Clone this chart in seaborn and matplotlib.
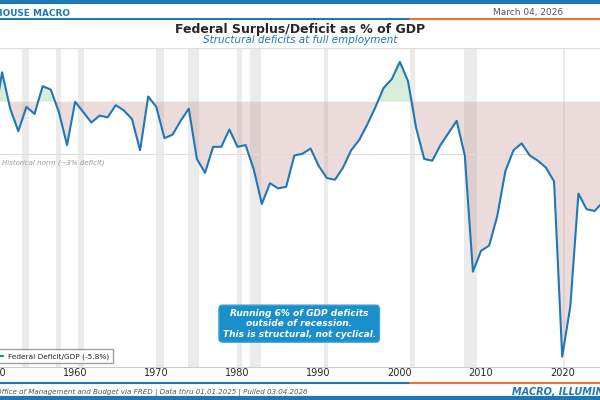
import numpy as np
import pandas as pd
import matplotlib
matplotlib.use("Agg")
import matplotlib.pyplot as plt
import seaborn as sns

years = list(range(1950, 2026))
values = [-1.1, 1.7, -0.4, -1.7, -0.3, -0.7, 0.9, 0.7, -0.6, -2.5,
          0.0, -0.6, -1.2, -0.8, -0.9, -0.2, -0.5, -1.0, -2.8, 0.3,
          -0.3, -2.1, -1.9, -1.1, -0.4, -3.3, -4.1, -2.6, -2.6, -1.6,
          -2.6, -2.5, -3.9, -5.9, -4.7, -5.0, -4.9, -3.1, -3.0, -2.7,
          -3.7, -4.4, -4.5, -3.8, -2.8, -2.2, -1.3, -0.3, 0.8, 1.3,
          2.3, 1.2, -1.5, -3.3, -3.4, -2.5, -1.8, -1.1, -3.1, -9.8,
          -8.6, -8.3, -6.6, -4.0, -2.8, -2.4, -3.1, -3.4, -3.8, -4.6,
          -14.7, -11.8, -5.3, -6.2, -6.3, -5.8]
recessions = [(1953.5, 1954.3), (1957.6, 1958.3), (1960.3, 1961.1), (1969.9, 1970.9),
              (1973.9, 1975.2), (1980.0, 1980.5), (1981.5, 1982.9), (1990.6, 1991.2),
              (2001.2, 2001.9), (2007.9, 2009.5), (2020.1, 2020.4)]
xticks = [1950, 1960, 1970, 1980, 1990, 2000, 2010, 2020]

df = pd.DataFrame({"year": years, "value": values})
BLUE = "#1f78b4"
ORANGE = "#e8743b"

sns.set_style("white")
plt.rcParams['font.family'] = ['DejaVu Sans']
fig = plt.figure(figsize=(6, 4), dpi=100)
ax = fig.add_axes([-0.0777, 0.0825, 1.150, 0.7975])

for a, b in recessions:
    ax.axvspan(a, b, color="#e6e6e6", alpha=0.8, lw=0, zorder=0)
x = np.array(years, float); y = np.array(values)
ax.fill_between(x, 0, y, where=y < 0, interpolate=True, color="#c08a8a", alpha=0.3, lw=0, zorder=1)
ax.fill_between(x, 0, y, where=y > 0, interpolate=True, color="#9fd49f", alpha=0.4, lw=0, zorder=1)
ax.axhline(-3, color="#dddddd", lw=0.8, zorder=1)
ax.axhline(3.1, color="#dddddd", lw=1.5, zorder=1)
sns.lineplot(data=df, x="year", y="value", ax=ax, color=BLUE, lw=1.5, zorder=3,
             label="Federal Deficit/GDP (-5.8%)", legend=False)
ax.text(1951.0, -3.35, "Historical norm (~3% deficit)", fontsize=5, style="italic", color="#999999", va="top")
ax.set_xlim(1945, 2030); ax.set_ylim(-15.3, 3.1)
ax.set_xticks(xticks); ax.set_xticklabels([str(t) for t in xticks], fontsize=7)
ax.set_yticks([]); ax.set_xlabel(""); ax.set_ylabel("")
for s in ["top", "left", "right"]:
    ax.spines[s].set_visible(False)
ax.spines["bottom"].set_color("#cccccc")
ax.tick_params(axis="x", length=0, pad=1)

ax.text(1987.6, -12.8, "Running 6% of GDP deficits\noutside of recession.\nThis is structural, not cyclical.",
        ha="center", va="center", fontsize=6.5, fontweight="bold", style="italic", color="white",
        bbox=dict(boxstyle="round,pad=0.4", fc="#1a8fc9", ec="#3aa0d8"), zorder=5)

h, l = ax.get_legend_handles_labels()
leg = fig.legend(h, l, loc="lower right", bbox_to_anchor=(117/600, 1-367/400), fontsize=5.3,
                 frameon=True, fancybox=False, edgecolor="#888888", handlelength=2.5, borderpad=0.5)

# header/footer
fig.add_artist(plt.Line2D([0, 1], [1-2/400, 1-2/400], color=BLUE, lw=3))
fig.add_artist(plt.Line2D([0, 410/600], [1-19/400]*2, color=BLUE, lw=1.5))
fig.add_artist(plt.Line2D([410/600, 1], [1-19/400]*2, color=ORANGE, lw=1.5))
fig.text(70/600, 1-13/400, "LIGHTHOUSE MACRO", ha="right", va="center", fontsize=6.4, fontweight="bold", color=BLUE)
fig.text(493/600, 1-12/400, "March 04, 2026", ha="left", va="center", fontsize=6.5, color="#555555")
fig.text(0.5, 1-29/400, "Federal Surplus/Deficit as % of GDP", ha="center", va="center", fontsize=9, fontweight="bold")
fig.text(0.5, 1-40/400, "Structural deficits at full employment", ha="center", va="center", fontsize=7.5, style="italic", color=BLUE)
fig.add_artist(plt.Line2D([0, 410/600], [1-383/400]*2, color=BLUE, lw=1.5))
fig.add_artist(plt.Line2D([410/600, 1], [1-383/400]*2, color=ORANGE, lw=1.5))
fig.add_artist(plt.Line2D([0, 1], [1-398/400]*2, color=BLUE, lw=3))
fig.text(307/600, 1-392/400, "Lighthouse Macro | Office of Management and Budget via FRED | Data thru 01.01.2025 | Pulled 03.04.2026",
         ha="right", va="center", fontsize=5.1, style="italic", color="#555555")
fig.text(512/600, 1-392/400, "MACRO, ILLUMINATED.", ha="left", va="center", fontsize=7, fontweight="bold", style="italic", color=BLUE)
fig.savefig("out.png", dpi=100)
